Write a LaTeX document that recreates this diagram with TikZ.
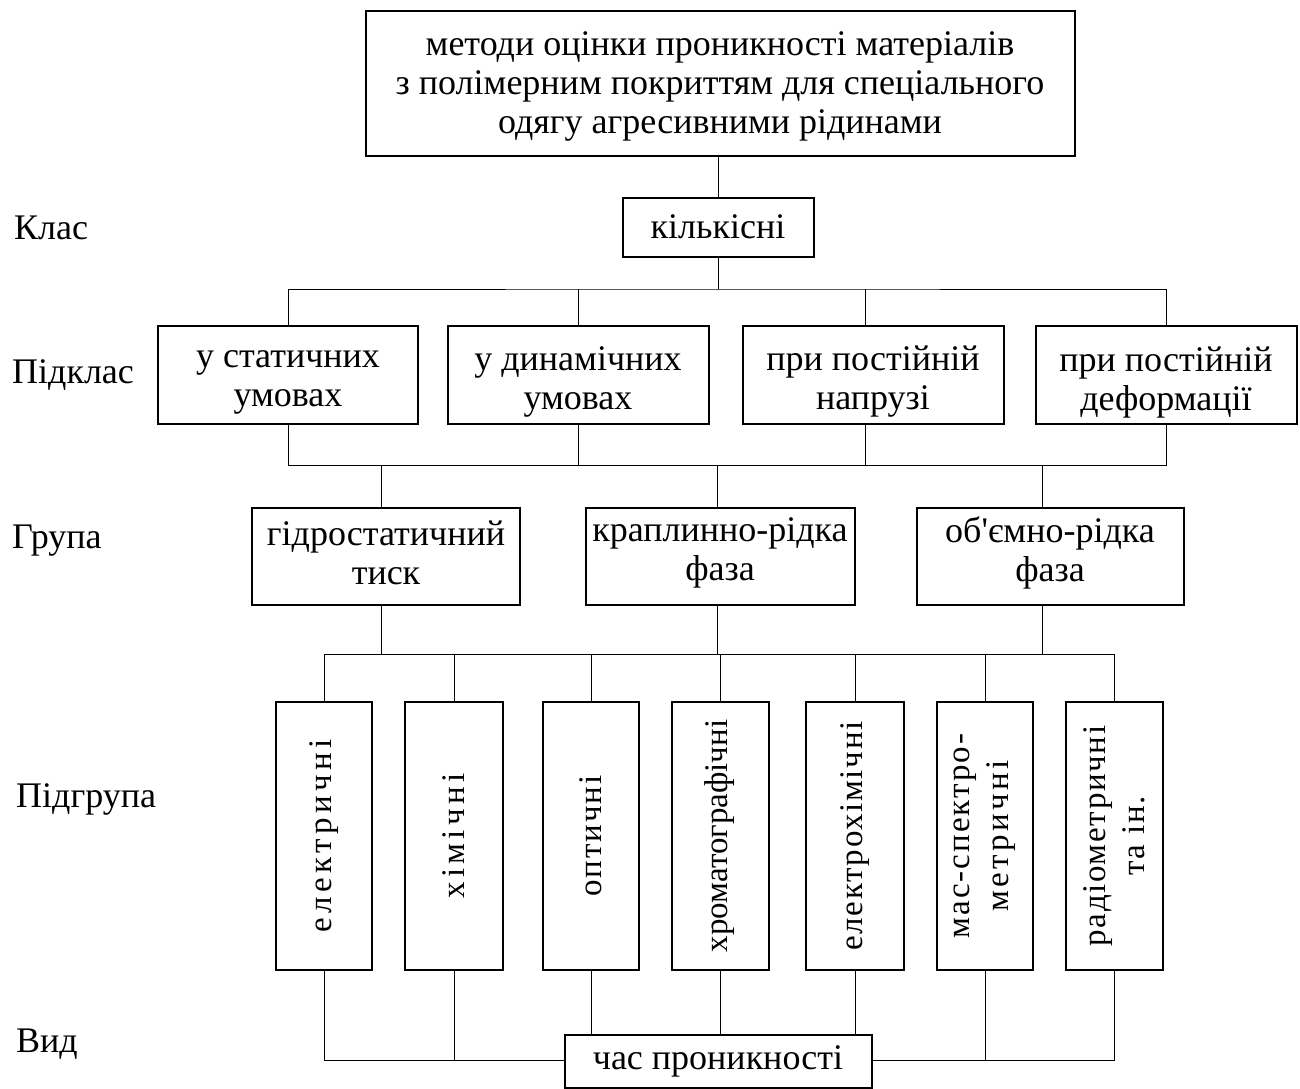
\documentclass[tikz,border=0pt]{standalone}
\usepackage{fontspec}
\setmainfont{Liberation Serif}
\newcommand{\lsp}[2]{{\addfontfeatures{LetterSpace=#1}#2}}
\begin{document}
\begin{tikzpicture}[x=1pt,y=-1pt,
  box/.style={draw, line width=2pt, inner sep=0pt, align=center,
    font=\fontsize{36}{39}\selectfont},
  vbox/.style={box, rotate=90, font=\fontsize{33}{39}\selectfont},
  lt/.style={inner sep=0pt, align=center, font=\fontsize{36}{39}\selectfont},
  lbl/.style={anchor=west, inner sep=0pt, font=\fontsize{36}{39}\selectfont},
  conn/.style={line width=1pt}]
\useasboundingbox (0,0) rectangle (1300,1088);
% top
\node[box, minimum width=709, minimum height=145,
  label={[lt, yshift=-3pt]center:{методи оцінки проникності матеріалів\\з полімерним покриттям для спеціального\\одягу агресивними рідинами}}] (t) at (720,83) {};
\node[box, minimum width=191, minimum height=59] (k) at (718,227) {кількісні};
% subclass
\node[box, minimum width=260, minimum height=98, label={[lt, yshift=-7pt]center:{у статичних\\умовах}}] (s1) at (288,375) {};
\node[box, minimum width=261, minimum height=98, label={[lt, yshift=-7pt]center:{у динамічних\\умовах}}] (s2) at (578,375) {};
\node[box, minimum width=261, minimum height=98, label={[lt, yshift=-7pt]center:{при постійній\\напрузі}}] (s3) at (873,375) {};
\node[box, minimum width=261, minimum height=98, label={[lt, yshift=-7pt]center:{при постійній\\деформації}}] (s4) at (1166,375) {};
% group
\node[box, minimum width=268, minimum height=97, label={[lt, yshift=3pt]center:{гідростатичний\\тиск}}] (g1) at (386,556) {};
\node[box, minimum width=269, minimum height=97, label={[lt, yshift=3pt]center:{краплинно-рідка\\фаза}}] (g2) at (720,556) {};
\node[box, minimum width=267, minimum height=97, label={[lt, yshift=3pt]center:{об\textquotesingle ємно-рідка\\фаза}}] (g3) at (1050,556) {};
% subgroup (rotated: minimum width is vertical extent)
\node[vbox, minimum width=268, minimum height=96] (p1) at (324,836) {\lsp{13}{електричні}};
\node[vbox, minimum width=268, minimum height=98] (p2) at (454,836) {\lsp{13}{хімічні}};
\node[vbox, minimum width=268, minimum height=96] (p3) at (591,836) {\lsp{6}{оптичні}};
\node[vbox, minimum width=268, minimum height=97] (p4) at (720,836) {хроматографічні};
\node[vbox, minimum width=268, minimum height=98] (p5) at (855,836) {\lsp{5}{електрохімічні}};
\node[vbox, minimum width=268, minimum height=96] (p6) at (985,836) {\lsp{6}{мас-спектро-}\\\lsp{10}{метричні}};
\node[vbox, minimum width=268, minimum height=97] (p7) at (1114,836) {\lsp{5}{радіометричні}\\\lsp{5}{та ін.}};
% kind
\node[box, minimum width=307, minimum height=53] (v) at (718,1061) {час проникності};
% level labels
\node[lbl] (l1) at (14,228) {Клас};
\node[lbl] (l2) at (12,375) {Підклас};
\node[lbl] (l3) at (12,541) {Група};
\node[lbl] (l4) at (16,799) {Підгрупа};
\node[lbl] (l5) at (16,1044) {Вид};
% buses
\coordinate (b1) at (718,289);
\coordinate (b2) at (718,465);
\coordinate (b3) at (718,654);
% connectors
\draw[conn] (t.south -| k.north) -- (k.north);
\draw[conn] (k.south) -- (b1);
\draw[conn] (s1.north) |- (b1) -| (s4.north);
\draw[conn] (s2.north) -- (s2.north |- b1);
\draw[conn] ([xshift=-8pt]s3.north) -- ([xshift=-8pt]s3.north |- b1);
\draw[conn] (s1.south) |- (b2) -| (s4.south);
\draw[conn] (s2.south) -- (s2.south |- b2);
\draw[conn] ([xshift=-8pt]s3.south) -- ([xshift=-8pt]s3.south |- b2);
\draw[conn] ([xshift=-5pt]g1.north) -- ([xshift=-5pt]g1.north |- b2);
\draw[conn] ([xshift=-3pt]g2.north) -- ([xshift=-3pt]g2.north |- b2);
\draw[conn] ([xshift=-8pt]g3.north) -- ([xshift=-8pt]g3.north |- b2);
\draw[conn] ([xshift=-5pt]g1.south) -- ([xshift=-5pt]g1.south |- b3);
\draw[conn] ([xshift=-3pt]g2.south) -- ([xshift=-3pt]g2.south |- b3);
\draw[conn] ([xshift=-8pt]g3.south) -- ([xshift=-8pt]g3.south |- b3);
\draw[conn] (p1.east) |- (b3) -| (p7.east);
\foreach \n in {p2,p3,p4,p5,p6} \draw[conn] (\n.east) -- (\n.east |- b3);
\draw[conn] (p1.west) |- ([yshift=1pt]v.west);
\draw[conn] (p7.west) |- ([yshift=1pt]v.east);
\draw[conn] (p2.west) -- (p2.west |- v.west);
\draw[conn] (p6.west) -- (p6.west |- v.east);
\foreach \n in {p3,p4,p5} \draw[conn] (\n.west) -- (\n.west |- v.north);
\end{tikzpicture}
\end{document}
